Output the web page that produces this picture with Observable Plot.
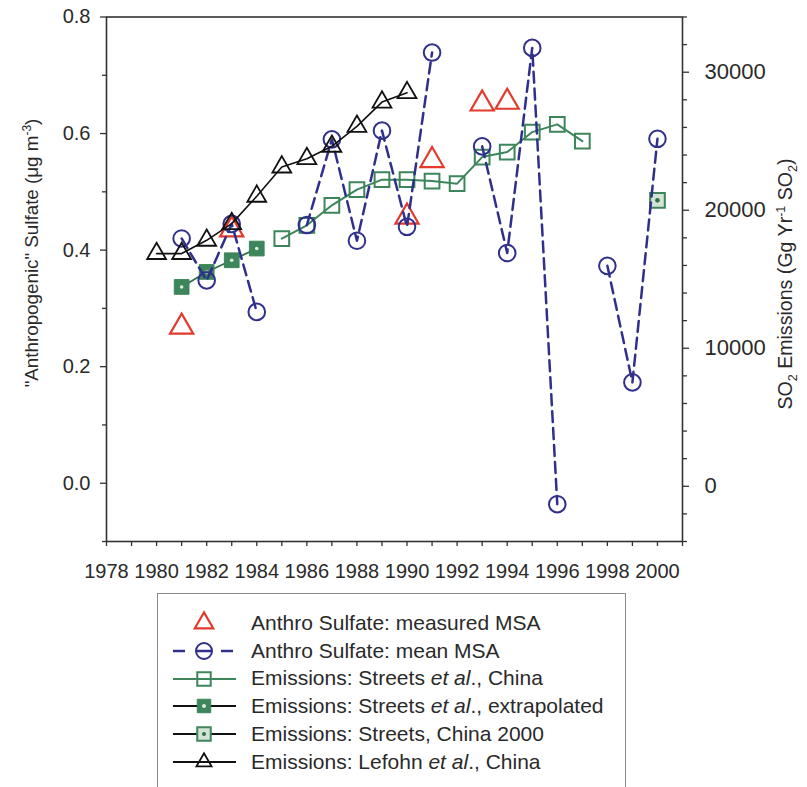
<!DOCTYPE html>
<html>
<head>
<meta charset="utf-8">
<script src="https://cdn.jsdelivr.net/npm/d3@7"></script>
<script src="https://cdn.jsdelivr.net/npm/@observablehq/plot@0.6"></script>
<style>
html, body { margin: 0; padding: 0; background: #fff; overflow: hidden; width: 807px; height: 787px; }
#chart { position: absolute; left: 0; top: 0; }
#legend { position: absolute; left: 157px; top: 593px; width: 469px; height: 210px; border: 1px solid #8a8a8a; box-sizing: border-box; padding-top: 15px; font-family: "Liberation Sans", Arial, sans-serif; font-size: 21px; color: #2a2a2a; }
.row { height: 27.8px; display: flex; align-items: center; white-space: nowrap; }
.row svg { flex: none; }
</style>
</head>
<body>
<div id="chart"></div>
<div id="legend"></div>
<script>
// ---- data ----
const measuredYears = [1981, 1983, 1990, 1991, 1993, 1994];
const measuredMSA = [0.268, 0.435, 0.457, 0.554, 0.651, 0.654];

const meanYears = [1981,1982,1983,1984,1985,1986,1987,1988,1989,1990,1991,1992,1993,1994,1995,1996,1997,1998,1999,2000];
const meanMSA = [0.420,0.348,0.445,0.294,null,0.443,0.590,0.416,0.605,0.440,0.739,null,0.578,0.395,0.747,-0.036,null,0.373,0.173,0.591];

const lefohnYears = [1980,1981,1982,1983,1984,1985,1986,1987,1988,1989,1990];
const lefohnEmis = [16860,16860,17820,19030,21010,23130,23735,24630,26075,27835,28510];

const streetsYears = [1985,1986,1987,1988,1989,1990,1991,1992,1993,1994,1995,1996,1997];
const streetsEmis = [17945,18910,20356,21490,22217,22217,22115,21927,23852,24214,25662,26219,25010];

const extrapYears = [1981,1982,1983,1984];
const extrapEmis = [14443,15529,16375,17223];

const china2000Years = [2000];
const china2000Emis = [20718];

const xLabelTicks = [1978,1980,1982,1984,1986,1988,1990,1992,1994,1996,1998,2000];
const xMinorTicks = [1979,1981,1983,1985,1987,1989,1991,1993,1995,1997,1999,2001];
const leftMajorTicks = [0.0, 0.2, 0.4, 0.6, 0.8];
const leftMinorTicks = [-0.1, 0.1, 0.3, 0.5, 0.7];
const rightMajorTicks = [0, 10000, 20000, 30000];
const rightMinorTicks = [-4000,-2000,2000,4000,6000,8000,12000,14000,16000,18000,22000,24000,26000,28000,32000,34000];

// ---- helpers ----
const leftDomain = [-0.1, 0.8];
const rightDomain = [-4000, 34000];
const e2s = e => leftDomain[0] + (e - rightDomain[0]) * (leftDomain[1] - leftDomain[0]) / (rightDomain[1] - rightDomain[0]);
const s2e = s => rightDomain[0] + (s - leftDomain[0]) * (rightDomain[1] - rightDomain[0]) / (leftDomain[1] - leftDomain[0]);

const zip = (xs, ys) => xs.map((x, i) => ({x, y: ys[i]}));
const measured = zip(measuredYears, measuredMSA);
const mean = zip(meanYears, meanMSA).map(d => ({x: d.x, y: d.y == null ? NaN : d.y}));
const lefohn = zip(lefohnYears, lefohnEmis.map(e2s));
const streets = zip(streetsYears, streetsEmis.map(e2s));
const extrap = zip(extrapYears, extrapEmis.map(e2s));
const china2000 = zip(china2000Years, china2000Emis.map(e2s));

const RED = "#e23a2c", BLUE = "#30308c", GREEN = "#3d855a", DKGREEN = "#2f6e48", BLACK = "#111";
const FONT = "'Liberation Sans', Arial, sans-serif";
const AX = "#333";

const chart = Plot.plot({
  width: 807,
  height: 590,
  marginLeft: 106,
  marginRight: 125,
  marginTop: 16.5,
  marginBottom: 49,
  x: {domain: [1978, 2001]},
  y: {domain: leftDomain},
  style: {fontFamily: FONT, fontSize: "20px", color: AX, background: "white"},
  marks: [
    Plot.axisX({ticks: xLabelTicks, tickFormat: d => String(d), tickSize: 5, tickPadding: 17, label: null, stroke: AX, strokeWidth: 1.3, fill: "#2a2a2a"}),
    Plot.axisX({ticks: xMinorTicks, tickFormat: () => "", tickSize: 5, label: null, stroke: AX, strokeWidth: 1.3}),
    Plot.axisY({ticks: leftMajorTicks, tickFormat: d3.format(".1f"), tickSize: 6, tickPadding: 10, label: null, stroke: AX, strokeWidth: 1.3, fill: "#2a2a2a"}),
    Plot.axisY({ticks: leftMinorTicks, tickFormat: () => "", tickSize: 4, label: null, stroke: AX, strokeWidth: 1.3}),
    Plot.axisY({anchor: "right", ticks: rightMajorTicks.map(e2s), tickFormat: d => String(Math.round(s2e(d))), tickSize: 6, tickPadding: 16, fontSize: 22, label: null, stroke: AX, strokeWidth: 1.3, fill: "#2a2a2a"}),
    Plot.axisY({anchor: "right", ticks: rightMinorTicks.map(e2s), tickFormat: () => "", tickSize: 4, label: null, stroke: AX, strokeWidth: 1.3}),
    Plot.frame({stroke: AX, strokeWidth: 1.6}),

    // Streets extrapolated
    Plot.line(extrap, {x: "x", y: "y", stroke: DKGREEN, strokeWidth: 1.8}),
    Plot.dot(extrap, {x: "x", y: "y", symbol: "square", r: 8.3, fill: GREEN, stroke: GREEN, strokeWidth: 1}),
    Plot.dot(extrap, {x: "x", y: "y", r: 1.8, fill: "#dfeadf"}),
    // Streets China
    Plot.line(streets, {x: "x", y: "y", stroke: GREEN, strokeWidth: 2}),
    Plot.dot(streets, {x: "x", y: "y", symbol: "square", r: 8.3, fill: "none", stroke: GREEN, strokeWidth: 2}),
    // Streets China 2000
    Plot.dot(china2000, {x: "x", y: "y", symbol: "square", r: 8.3, fill: "#d3e4d6", stroke: GREEN, strokeWidth: 2}),
    Plot.dot(china2000, {x: "x", y: "y", r: 2.3, fill: DKGREEN}),
    // measured MSA
    Plot.dot(measured, {x: "x", y: "y", symbol: "triangle", r: 8.6, fill: "none", stroke: RED, strokeWidth: 2.2}),
    // mean MSA
    Plot.line(mean, {x: "x", y: "y", stroke: BLUE, strokeWidth: 2.5, strokeDasharray: "11,6"}),
    Plot.dot(mean, {x: "x", y: "y", symbol: "circle", r: 8.3, fill: "none", stroke: BLUE, strokeWidth: 2}),
    // Lefohn
    Plot.line(lefohn, {x: "x", y: "y", stroke: BLACK, strokeWidth: 1.6}),
    Plot.dot(lefohn, {x: "x", y: "y", symbol: "triangle", r: 7, fill: "none", stroke: BLACK, strokeWidth: 1.8})
  ]
});
document.getElementById("chart").appendChild(chart);

// axis titles with super/subscripts
const svg = d3.select(chart);
const lt = svg.append("text")
  .attr("transform", "translate(38,253) rotate(-90)")
  .attr("text-anchor", "middle")
  .attr("font-family", FONT).attr("font-size", 18.8).attr("fill", "#2a2a2a");
lt.append("tspan").text("\"Anthropogenic\" Sulfate (\u03bcg m");
lt.append("tspan").attr("dy", -7).attr("font-size", 12).text("-3");
lt.append("tspan").attr("dy", 7).text(")");

const rt = svg.append("text")
  .attr("transform", "translate(792,284) rotate(-90)")
  .attr("text-anchor", "middle")
  .attr("font-family", FONT).attr("font-size", 19.6).attr("fill", "#2a2a2a");
rt.append("tspan").text("SO");
rt.append("tspan").attr("dy", 5).attr("font-size", 12.5).text("2");
rt.append("tspan").attr("dy", -5).text(" Emissions (Gg Yr");
rt.append("tspan").attr("dy", -7).attr("font-size", 12.5).text("-1");
rt.append("tspan").attr("dy", 7).text(" SO");
rt.append("tspan").attr("dy", 5).attr("font-size", 12.5).text("2");
rt.append("tspan").attr("dy", -5).text(")");

// ---- legend ----
const legendItems = [
  {label: ["Anthro Sulfate: measured MSA"], line: null, symbol: "triangle", r: 8.8, stroke: RED, fill: "none", sw: 2.2},
  {label: ["Anthro Sulfate: mean MSA"], line: BLUE, dashed: true, symbol: "circle", r: 8, stroke: BLUE, fill: "none", sw: 2},
  {label: ["Emissions: Streets ", {i: "et al"}, "., China"], line: GREEN, symbol: "square", r: 7.6, stroke: GREEN, fill: "none", sw: 2},
  {label: ["Emissions: Streets ", {i: "et al"}, "., extrapolated"], line: BLACK, symbol: "square", r: 7.6, stroke: GREEN, fill: GREEN, sw: 1, dot: "#dfeadf"},
  {label: ["Emissions: Streets, China 2000"], line: BLACK, symbol: "square", r: 7.6, stroke: GREEN, fill: "#d3e4d6", sw: 2, dot: DKGREEN},
  {label: ["Emissions: Lefohn ", {i: "et al"}, "., China"], line: BLACK, symbol: "triangle", r: 7.2, stroke: BLACK, fill: "none", sw: 1.8}
];
const symbolTypes = {triangle: d3.symbolTriangle2 || d3.symbolTriangle, circle: d3.symbolCircle, square: d3.symbolSquare};
const legend = d3.select("#legend");
for (const it of legendItems) {
  const row = legend.append("div").attr("class", "row");
  const s = row.append("svg").attr("width", 93).attr("height", 28);
  if (it.line) {
    if (it.dashed) {
      for (const [a, b] of [[15, 27], [38, 54], [63, 75]]) {
        s.append("line").attr("x1", a).attr("x2", b).attr("y1", 14).attr("y2", 14).attr("stroke", it.line).attr("stroke-width", 2.5);
      }
    } else {
      s.append("line").attr("x1", 15).attr("x2", 78).attr("y1", 14).attr("y2", 14).attr("stroke", it.line).attr("stroke-width", 2);
    }
  }
  if (it.symbol === "circle") {
    s.append("circle").attr("cx", 46).attr("cy", 14).attr("r", it.r).attr("fill", it.fill).attr("stroke", it.stroke).attr("stroke-width", it.sw);
  } else {
    s.append("path").attr("transform", "translate(46,14)")
      .attr("d", d3.symbol(symbolTypes[it.symbol], Math.PI * it.r * it.r)())
      .attr("fill", it.fill).attr("stroke", it.stroke).attr("stroke-width", it.sw);
  }
  if (it.dot) s.append("circle").attr("cx", 46).attr("cy", 14).attr("r", 2).attr("fill", it.dot);
  const t = row.append("div");
  for (const part of it.label) {
    if (typeof part === "string") t.append("span").text(part);
    else t.append("i").text(part.i);
  }
}
</script>
</body>
</html>
